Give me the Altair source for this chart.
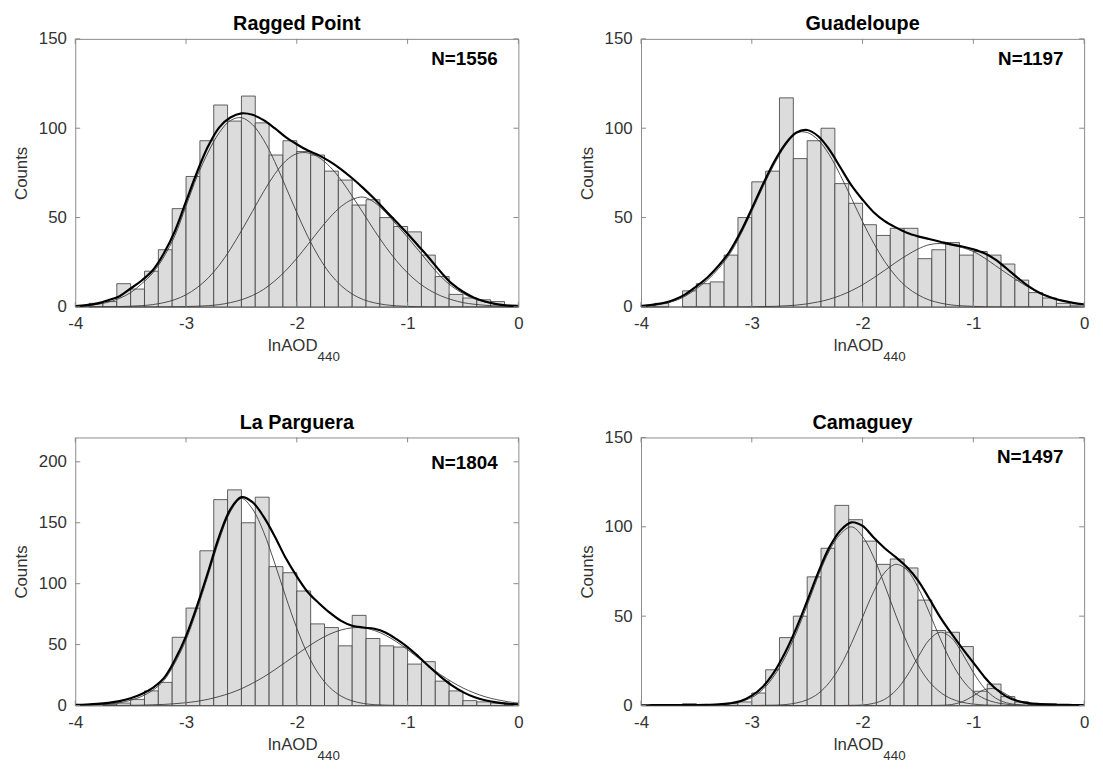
import altair as alt
import pandas as pd

FONT = "Liberation Sans"
TXT = "#333333"
FRAME = "#8a8a8a"
BAR_FILL = "#dcdcdc"
BAR_EDGE = "#3a3a3a"
COMP = "#3c3c3c"

W, H = 448, 271

# histogram bins (lnAOD440), width 0.125
bin_lo = [-4.0, -3.875, -3.75, -3.625, -3.5, -3.375, -3.25, -3.125,
          -3.0, -2.875, -2.75, -2.625, -2.5, -2.375, -2.25, -2.125,
          -2.0, -1.875, -1.75, -1.625, -1.5, -1.375, -1.25, -1.125,
          -1.0, -0.875, -0.75, -0.625, -0.5, -0.375, -0.25, -0.125]
bin_hi = bin_lo[1:] + [0.0]

# x positions of the fitted curves
curve_x = [-4.0, -3.9, -3.8, -3.7, -3.6, -3.5, -3.4, -3.3, -3.2, -3.1,
           -3.0, -2.9, -2.8, -2.7, -2.6, -2.5, -2.4, -2.3, -2.2, -2.1,
           -2.0, -1.9, -1.8, -1.7, -1.6, -1.5, -1.4, -1.3, -1.2, -1.1,
           -1.0, -0.9, -0.8, -0.7, -0.6, -0.5, -0.4, -0.3, -0.2, -0.1, 0.0]

x_ticks = [-4, -3, -2, -1, 0]
y_ticks_a = [0, 50, 100, 150]
y_ticks_b = [0, 50, 100, 150, 200]

# ---- Ragged Point
rp_counts = [0, 2, 3, 13, 10, 20, 32, 55, 73, 93, 113, 104, 118, 103, 85, 93,
             87, 85, 76, 71, 57, 60, 50, 45, 42, 29, 17, 7, 5, 4, 3, 1]
rp_fit = [0.5, 1.0, 2.0, 3.8, 6.0, 10.3, 14.8, 20.5, 30.0, 42.5,
          59.0, 75.5, 90.0, 100.5, 106.0, 108.3, 107.5, 104.5, 100.0, 95.0,
          91.0, 87.5, 84.8, 81.3, 77.0, 72.0, 66.5, 60.5, 54.0, 47.5,
          41.0, 34.0, 27.0, 19.5, 13.0, 8.5, 5.2, 3.0, 1.6, 0.8, 0.5]
rp_g1 = [0.3, 0.7, 1.4, 2.7, 4.8, 8.0, 13.0, 19.0, 28.0, 40.0,
         56.5, 73.0, 86.6, 97.5, 104.3, 105.9, 102.0, 93.5, 81.4, 67.2,
         52.8, 39.3, 27.8, 18.6, 11.9, 7.2, 4.1, 2.3, 1.2, 0.6,
         0.3, 0.1, 0, 0, 0, 0, 0, 0, 0, 0, 0]
rp_g2 = [0, 0, 0.05, 0.1, 0.2, 0.4, 0.7, 1.3, 2.4, 4.1,
         6.8, 10.8, 16.2, 23.4, 32.3, 42.6, 53.5, 64.5, 74.2, 81.7,
         85.8, 86.2, 83.6, 78.4, 71.0, 62.0, 52.5, 42.8, 33.8, 25.8,
         19.0, 13.5, 9.3, 6.2, 4.0, 2.4, 1.5, 0.9, 0.5, 0.3, 0.15]
rp_g3 = [0, 0, 0, 0, 0, 0, 0, 0, 0.05, 0.1,
         0.2, 0.4, 0.7, 1.3, 2.4, 4.0, 6.4, 9.8, 14.5, 20.3,
         27.2, 34.9, 42.8, 50.2, 56.2, 60.1, 61.5, 58.5, 53.0, 46.0,
         39.0, 31.5, 24.0, 17.0, 11.5, 7.5, 4.6, 2.7, 1.5, 0.8, 0.4]

# ---- Guadeloupe
gp_counts = [1, 2, 0, 9, 13, 14, 29, 50, 70, 76, 117, 83, 93, 100, 69, 58,
             46, 40, 44, 44, 27, 32, 36, 29, 31, 29, 24, 15, 8, 5, 2, 1]
gp_fit = [0.5, 1.2, 2.2, 4.0, 7.0, 11.5, 16.5, 23.0, 31.0, 42.0,
          55.0, 68.5, 81.0, 91.0, 97.5, 99.0, 95.5, 88.0, 78.0, 68.0,
          60.0, 53.0, 48.0, 44.5, 41.5, 39.5, 38.0, 36.5, 35.0, 33.8,
          32.2, 30.0, 26.5, 21.5, 16.3, 11.5, 7.8, 5.3, 3.5, 2.3, 1.5]
gp_g1 = [0.3, 0.8, 1.7, 3.3, 6.0, 10.2, 15.0, 21.5, 29.5, 40.5,
         53.5, 67.0, 79.5, 90.0, 97.3, 97.6, 93.4, 85.1, 73.6, 60.8,
         47.7, 35.7, 25.4, 17.2, 11.0, 6.8, 3.9, 2.2, 1.1, 0.6,
         0.3, 0.1, 0, 0, 0, 0, 0, 0, 0, 0, 0]
gp_g2 = [0, 0, 0, 0, 0, 0, 0, 0, 0, 0,
         0.1, 0.2, 0.3, 0.6, 1.0, 1.7, 2.8, 4.3, 6.4, 9.1,
         12.4, 16.3, 20.5, 24.9, 28.9, 32.4, 34.8, 35.5, 34.6, 33.2,
         31.0, 27.4, 23.1, 18.8, 14.7, 11.0, 7.9, 5.5, 3.6, 2.3, 1.4]

# ---- La Parguera
lp_counts = [0, 0, 1, 2, 5, 12, 19, 56, 80, 127, 169, 177, 150, 171, 114, 109,
             94, 67, 64, 49, 74, 55, 49, 48, 34, 36, 20, 12, 4, 3, 2, 1]
lp_fit = [0.5, 0.8, 1.3, 2.2, 3.6, 6.0, 9.5, 14.5, 22.5, 37.5,
          57.0, 82.0, 110.0, 139.0, 161.0, 171.0, 167.0, 155.0, 139.0, 121.0,
          106.0, 93.0, 84.0, 76.0, 69.5, 65.5, 64.0, 63.0, 60.0, 54.5,
          48.0, 40.0, 31.5, 23.5, 16.5, 11.0, 7.0, 4.3, 2.6, 1.5, 1.0]
lp_g1 = [0.1, 0.3, 0.6, 1.2, 2.3, 4.3, 7.5, 12.5, 20.5, 35.0,
         54.0, 79.0, 107.0, 136.0, 159.0, 170.0, 161.3, 142.5, 117.0, 89.3,
         63.4, 41.7, 25.5, 14.6, 7.7, 3.8, 1.7, 0.7, 0.3, 0.1,
         0, 0, 0, 0, 0, 0, 0, 0, 0, 0, 0]
lp_g2 = [0, 0, 0.03, 0.05, 0.1, 0.2, 0.3, 0.6, 0.9, 1.5,
         2.3, 3.4, 5.1, 7.4, 10.2, 13.8, 18.3, 23.4, 29.3, 35.6,
         42.0, 48.3, 54.0, 58.7, 62.0, 63.8, 63.8, 61.6, 57.7, 52.3,
         45.8, 38.8, 31.9, 25.2, 19.4, 14.4, 10.4, 7.2, 4.9, 3.2, 2.0]

# ---- Camaguey
cm_counts = [0, 0, 0, 1, 0, 0, 1, 2, 7, 20, 38, 50, 72, 88, 112, 104,
             92, 79, 82, 77, 59, 42, 41, 33, 8, 12, 5, 2, 1, 1, 0, 0]
cm_fit = [0.1, 0.2, 0.3, 0.3, 0.3, 0.3, 0.4, 0.6, 1.2, 2.5,
          5.5, 10.5, 18.5, 29.5, 43.0, 58.5, 74.5, 88.5, 98.0, 102.5,
          100.5, 94.0, 88.0, 83.0, 77.5, 70.0, 60.0, 49.5, 40.5, 32.0,
          24.0, 16.0, 9.5, 5.0, 2.5, 1.3, 0.8, 0.5, 0.4, 0.3, 0.2]
cm_g1 = [0, 0, 0, 0, 0, 0, 0, 0.4, 1.0, 2.2,
         4.5, 9.0, 16.5, 27.0, 40.5, 56.0, 72.5, 86.5, 96.0, 100.0,
         94.6, 83.0, 67.3, 50.6, 35.3, 22.7, 13.5, 7.5, 3.8, 1.8,
         0.8, 0.3, 0.1, 0, 0, 0, 0, 0, 0, 0, 0]
cm_g2 = [0, 0, 0, 0, 0, 0, 0, 0, 0, 0,
         0, 0.1, 0.2, 0.5, 1.4, 3.2, 6.7, 12.9, 22.2, 34.8,
         49.4, 63.7, 74.5, 79.0, 75.9, 66.2, 52.4, 37.6, 24.5, 14.5,
         7.7, 3.8, 1.7, 0.7, 0.25, 0.1, 0, 0, 0, 0, 0]
cm_g3 = [0, 0, 0, 0, 0, 0, 0, 0, 0, 0,
         0, 0, 0, 0, 0, 0, 0, 0, 0, 0.1,
         0.3, 1.2, 3.5, 8.4, 16.5, 27.0, 36.6, 41.0, 38.0, 29.2,
         18.5, 9.7, 4.2, 1.5, 0.5, 0.1, 0, 0, 0, 0, 0]
cm_g4 = [0, 0, 0, 0, 0, 0, 0, 0, 0, 0,
         0, 0, 0, 0, 0, 0, 0, 0, 0, 0,
         0, 0, 0, 0, 0, 0, 0, 0.1, 0.5, 2.1,
         5.4, 8.9, 9.3, 6.2, 2.7, 0.7, 0.1, 0, 0, 0, 0]

panels = [
    dict(title="Ragged Point", n="N=1556", counts=rp_counts, fit=rp_fit,
         comps=[rp_g1, rp_g2, rp_g3], ymax=150, yticks=y_ticks_a, ny=26, pin=True),
    dict(title="Guadeloupe", n="N=1197", counts=gp_counts, fit=gp_fit,
         comps=[gp_g1, gp_g2], ymax=150, yticks=y_ticks_a, ny=26, pin=False),
    dict(title="La Parguera", n="N=1804", counts=lp_counts, fit=lp_fit,
         comps=[lp_g1, lp_g2], ymax=220, yticks=y_ticks_b, ny=32, pin=False),
    dict(title="Camaguey", n="N=1497", counts=cm_counts, fit=cm_fit,
         comps=[cm_g1, cm_g2, cm_g3, cm_g4], ymax=150, yticks=y_ticks_a, ny=26, pin=False),
]


def make_panel(p):
    xs = alt.Scale(domain=[-4, 0], nice=False, zero=False)
    ys = alt.Scale(domain=[0, p["ymax"]], nice=False, zero=True)
    xaxis = alt.Axis(values=x_ticks, labelExpr="toString(datum.value)", ticks=False,
                     tickSize=0, domain=False, grid=False, labelFont=FONT,
                     labelFontSize=17, labelColor=TXT, labelPadding=9,
                     labelFlush=False, title=None)
    yaxis = alt.Axis(values=p["yticks"], labelExpr="toString(datum.value)", ticks=False,
                     tickSize=0, domain=False, grid=False, labelFont=FONT,
                     labelFontSize=17, labelColor=TXT, labelPadding=9,
                     labelFlush=False, title="Counts", titleFont=FONT,
                     titleFontSize=17, titleFontWeight="normal", titleColor=TXT,
                     titleX=-49, titleY=H / 2, titleAngle=270,
                     titleBaseline="alphabetic", titleAlign="center")
    X = lambda f: alt.X(f, scale=xs, axis=xaxis)
    Y = lambda f: alt.Y(f, scale=ys, axis=yaxis)

    bars_df = pd.DataFrame({"lo": bin_lo, "hi": bin_hi, "c": p["counts"]})
    bars = alt.Chart(bars_df).transform_filter("datum.c > 0").mark_rect(
        fill=BAR_FILL, stroke=BAR_EDGE, strokeWidth=0.8
    ).encode(x=X("lo:Q"), x2="hi:Q", y=Y("c:Q"), y2=alt.datum(0))

    layers = [bars]
    for comp in p["comps"]:
        cdf = pd.DataFrame({"x": curve_x, "y": comp})
        layers.append(alt.Chart(cdf).mark_line(
            interpolate="catmull-rom", color=COMP, strokeWidth=0.9, clip=True
        ).encode(x=X("x:Q"), y=Y("y:Q")))
    fdf = pd.DataFrame({"x": curve_x, "y": p["fit"]})
    layers.append(alt.Chart(fdf).mark_line(
        interpolate="catmull-rom", color="black", strokeWidth=2.2, clip=True
    ).encode(x=X("x:Q"), y=Y("y:Q")))

    # inward ticks on all four sides
    xt = pd.DataFrame({"v": x_ticks})
    yt = pd.DataFrame({"v": p["yticks"]})
    tick_style = dict(color=FRAME, strokeWidth=1)
    layers.append(alt.Chart(xt).mark_rule(**tick_style).encode(
        x=X("v:Q"), y=alt.value(H), y2=alt.value(H - 5)))
    layers.append(alt.Chart(xt).mark_rule(**tick_style).encode(
        x=X("v:Q"), y=alt.value(0), y2=alt.value(5)))
    layers.append(alt.Chart(yt).mark_rule(**tick_style).encode(
        y=Y("v:Q"), x=alt.value(0), x2=alt.value(5)))
    layers.append(alt.Chart(yt).mark_rule(**tick_style).encode(
        y=Y("v:Q"), x=alt.value(W - 5), x2=alt.value(W)))

    # texts
    tdf = pd.DataFrame({"t": [p["title"]]})
    layers.append(alt.Chart(tdf).mark_text(
        font=FONT, fontSize=20, fontWeight="bold", color="black",
        align="center", baseline="alphabetic"
    ).encode(x=alt.value(W / 2), y=alt.value(-8.5), text="t:N"))
    ndf = pd.DataFrame({"t": [p["n"]]})
    layers.append(alt.Chart(ndf).mark_text(
        font=FONT, fontSize=19, fontWeight="bold", color="black",
        align="right", baseline="alphabetic"
    ).encode(x=alt.value(427), y=alt.value(p["ny"]), text="t:N"))
    xl = pd.DataFrame({"t": ["lnAOD"]})
    layers.append(alt.Chart(xl).mark_text(
        font=FONT, fontSize=17, color=TXT, align="right", baseline="alphabetic"
    ).encode(x=alt.value(245), y=alt.value(H + 45), text="t:N"))
    xs_df = pd.DataFrame({"t": ["440"]})
    layers.append(alt.Chart(xs_df).mark_text(
        font=FONT, fontSize=13.5, color=TXT, align="left", baseline="alphabetic"
    ).encode(x=alt.value(245), y=alt.value(H + 55), text="t:N"))

    if p["pin"]:
        pin = pd.DataFrame({"a": [0]})
        layers.append(alt.Chart(pin).mark_rule(opacity=0, strokeWidth=0.1).encode(
            x=alt.value(-67), x2=alt.value(-66), y=alt.value(-26), y2=alt.value(-26)))

    return alt.layer(*layers).properties(width=W, height=H)


chart = alt.concat(
    *[make_panel(p) for p in panels],
    columns=2,
    spacing={"row": 132, "column": 124},
    bounds="flush",
).properties(
    padding={"left": 0, "top": 0, "right": 5, "bottom": 5},
    background="white",
).configure_view(stroke=FRAME, strokeWidth=1)

chart.save("out.html", embed_options={"renderer": "svg", "actions": False})
